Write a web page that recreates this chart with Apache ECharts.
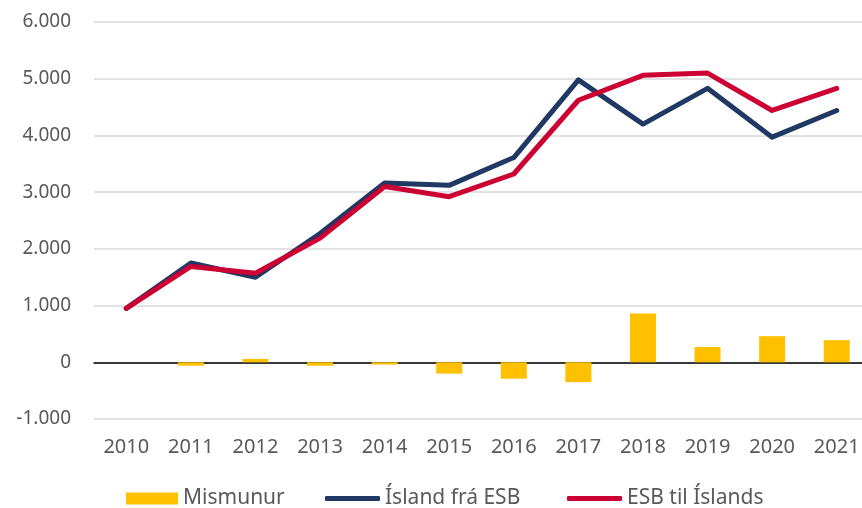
<!DOCTYPE html>
<html>
<head>
<meta charset="utf-8">
<script src="https://cdn.jsdelivr.net/npm/echarts@6/dist/echarts.min.js"></script>
<style>
  html, body { margin: 0; padding: 0; background: #fff; }
  #chart { width: 862px; height: 508px; }
</style>
</head>
<body>
<div id="chart"></div>
<script>
  const years = ['2010', '2011', '2012', '2013', '2014', '2015', '2016', '2017', '2018', '2019', '2020', '2021']
  const mismunur = [0, -60, 60, -60, -40, -200, -290, -350, 860, 270, 460, 390]
  const islandFraEsb = [950, 1750, 1500, 2270, 3160, 3120, 3610, 4980, 4200, 4830, 3970, 4440]
  const esbTilIslands = [950, 1690, 1570, 2190, 3100, 2920, 3320, 4620, 5060, 5100, 4440, 4830]

  const font = 'Noto Sans'
  const fmt = v => {
    const s = Math.abs(v).toString().replace(/\B(?=(\d{3})+(?!\d))/g, '.')
    return (v < 0 ? '-' : '') + s
  }

  // one legend per item so each can be placed like the original
  const legendText = { fontFamily: font, fontSize: 21, color: '#595959' }
  const legends = [
    { left: 126, top: 488, itemWidth: 52, itemHeight: 12, icon: 'rect', data: ['Mismunur'] },
    { left: 325, top: 488, itemWidth: 55, itemHeight: 5, icon: 'roundRect', data: ['Ísland frá ESB'] },
    { left: 567, top: 488, itemWidth: 55, itemHeight: 5, icon: 'roundRect', data: ['ESB til Íslands'] }
  ].map(l => Object.assign({ padding: 0, textStyle: legendText }, l))

  const option = {
    animation: false,
    textStyle: { fontFamily: font },
    grid: { left: 94, right: -7, top: 22, bottom: 89, outerBoundsMode: 'none', containLabel: false },
    legend: legends,
    xAxis: {
      type: 'category',
      data: years,
      axisLine: { onZero: true, lineStyle: { color: '#000', width: 1.5 } },
      axisTick: { show: false },
      axisLabel: { fontFamily: font, fontSize: 20, color: '#595959', margin: 18 }
    },
    yAxis: {
      type: 'value',
      min: -1000,
      max: 6000,
      interval: 1000,
      axisLine: { show: false },
      axisTick: { show: false },
      splitLine: { lineStyle: { color: '#d9d9d9', width: 1.5 } },
      axisLabel: { fontFamily: font, fontSize: 19, color: '#595959', margin: 23, formatter: fmt }
    },
    series: [
      {
        name: 'Mismunur',
        type: 'bar',
        data: mismunur,
        barWidth: 26,
        itemStyle: { color: '#FFC000' }
      },
      {
        name: 'Ísland frá ESB',
        type: 'line',
        data: islandFraEsb,
        symbol: 'none',
        lineStyle: { color: '#1F3864', width: 5, cap: 'round', join: 'round' },
        itemStyle: { color: '#1F3864' }
      },
      {
        name: 'ESB til Íslands',
        type: 'line',
        data: esbTilIslands,
        symbol: 'none',
        lineStyle: { color: '#CC0033', width: 5, cap: 'round', join: 'round' },
        itemStyle: { color: '#CC0033' }
      }
    ]
  }

  const myChart = echarts.init(document.getElementById('chart'))
  myChart.setOption(option, true)
</script>
</body>
</html>
